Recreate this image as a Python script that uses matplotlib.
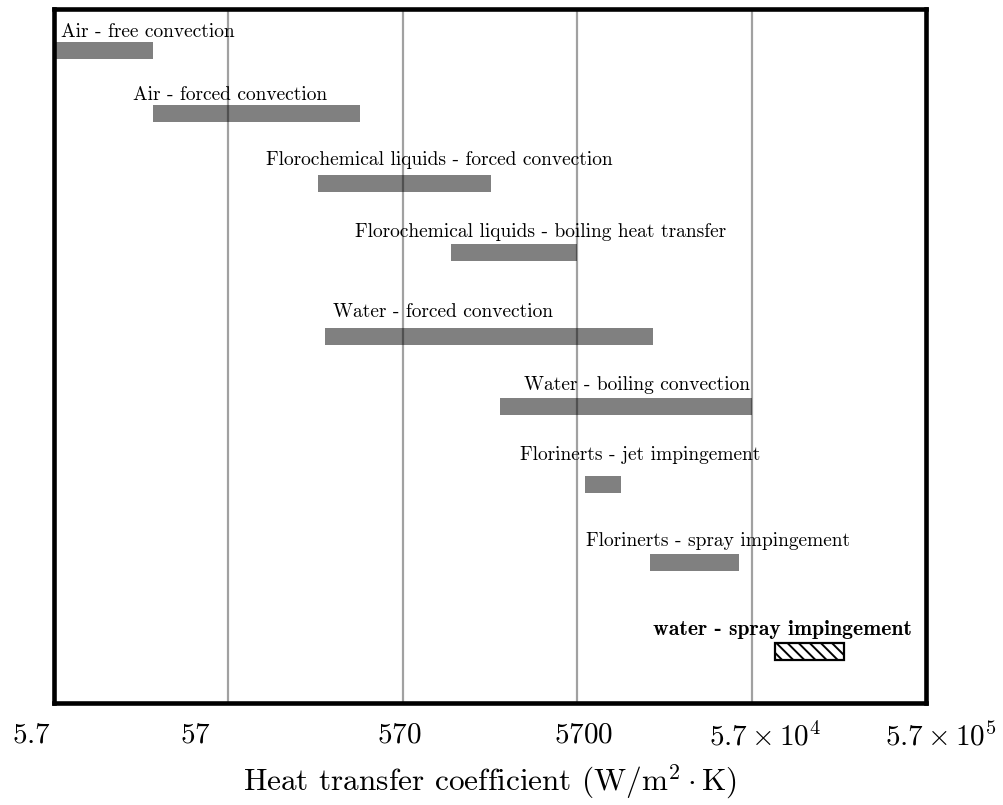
import matplotlib
matplotlib.use('Agg')
import matplotlib.pyplot as plt
import matplotlib.transforms as mtransforms

plt.rcParams['font.family'] = ['cmr10', 'DejaVu Serif']
plt.rcParams['mathtext.fontset'] = 'cm'
plt.rcParams['axes.unicode_minus'] = False
plt.rcParams['hatch.linewidth'] = 1.4

# heat transfer coefficient ranges, W/(m^2 K)
methods = [
    'Air - free convection',
    'Air - forced convection',
    'Florochemical liquids - forced convection',
    'Florochemical liquids - boiling heat transfer',
    'Water - forced convection',
    'Water - boiling convection',
    'Florinerts - jet impingement',
    'Florinerts - spray impingement',
    'water - spray impingement',
]
h_low = [5.7, 21, 185, 1080, 205, 2060, 6300, 15000, 78000]
h_high = [21, 325, 1830, 5700, 15600, 57000, 10100, 48000, 194000]
row_y = [9.39, 8.49, 7.48, 6.48, 5.28, 4.27, 3.14, 2.02, 0.73]

# where each caption sits (left end, baseline)
label_x = [6.25, 16.2, 94, 303, 227, 2820, 2680, 6400, 15500]
label_y = [9.59, 8.68, 7.75, 6.71, 5.56, 4.50, 3.50, 2.255, 0.973]

ticks = [5.7, 57, 570, 5700, 57000, 570000]
tick_labels = [r'$5.7$', r'$57$', r'$570$', r'$5700$',
               r'$5.7\times10^4$', r'$5.7\times10^5$']
tick_shift = [-16.6, -23.8, -2.2, 4.3, 9.4, 10.8]   # points

fig = plt.figure(figsize=(10.04, 8.05), dpi=100)
ax = fig.add_axes([0.0538, 0.1273, 0.8685, 0.8621])

bar_h = 0.245
for i, name in enumerate(methods):
    w = h_high[i] - h_low[i]
    if name.startswith('water - spray'):
        ax.barh(row_y[i], w, left=h_low[i], height=bar_h, facecolor='white',
                edgecolor='black', linewidth=1.6, hatch='\\\\\\', zorder=2)
        ax.text(label_x[i], label_y[i], name, fontsize=15.6, va='baseline',
                ha='left', family=['cmb10', 'DejaVu Serif'], zorder=4)
    else:
        ax.barh(row_y[i], w, left=h_low[i], height=bar_h, color='#808080',
                zorder=2)
        ax.text(label_x[i], label_y[i], name, fontsize=14, va='baseline',
                ha='left', zorder=4)

ax.set_xscale('log')
ax.set_xlim(5.7, 570000)
ax.set_ylim(0, 10)
ax.set_yticks([])
ax.minorticks_off()
ax.set_xticks(ticks)
ax.set_xticklabels(tick_labels, fontsize=21)
ax.tick_params(axis='x', length=0, pad=14)
for lab, dx in zip(ax.get_xticklabels(), tick_shift):
    lab.set_transform(lab.get_transform() +
                      mtransforms.ScaledTranslation(dx / 72, 0, fig.dpi_scale_trans))

ax.set_axisbelow(False)
ax.grid(True, axis='x', color='black', alpha=0.37, linewidth=1.6, zorder=3)
for s in ax.spines.values():
    s.set_linewidth(3.3)
    s.set_zorder(5)

ax.set_xlabel(r'Heat transfer coefficient $(\mathrm{W}/\mathrm{m}^2\cdot\mathrm{K})$',
              fontsize=22.5, labelpad=8)

fig.savefig('out.png', dpi=100)
